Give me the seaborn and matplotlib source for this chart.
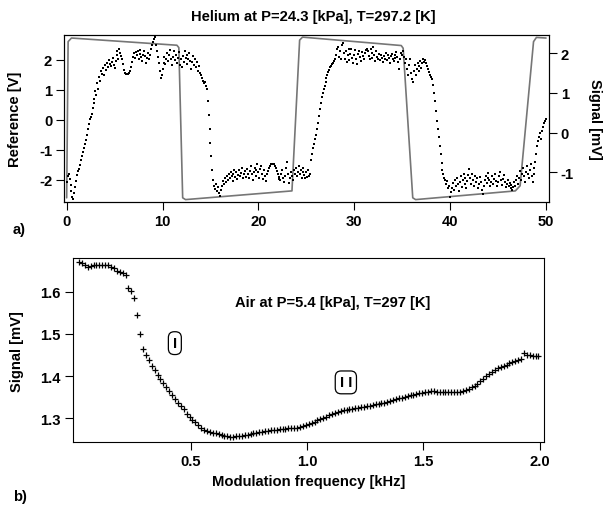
import numpy as np
import pandas as pd
import matplotlib
matplotlib.use("Agg")
import matplotlib.pyplot as plt
import seaborn as sns

# --- panel a: reference square wave (left axis, V) ---
ref_t = [0.0, 0.15, 0.5, 11.5, 11.7, 12.1, 12.4, 23.5, 24.3, 24.6, 34.9, 35.1,
         36.1, 36.4, 46.8, 47.3, 48.7, 49.0, 50.0]
ref_v = [-2.6, 2.6, 2.72, 2.48, 2.4, -2.6, -2.66, -2.37, 2.65, 2.75, 2.47, 2.38,
         -2.6, -2.66, -2.37, -2.2, 2.6, 2.74, 2.72]

# --- panel a: detector signal (right axis, mV), sampled every 0.1 ---
sig_mv = [
    -1.25, -1.10, -1.05, -1.18, -1.32, -1.48, -1.62, -1.68, -1.52, -1.38,
    -1.22, -1.08, -0.98, -0.92, -0.82, -0.70, -0.60, -0.50, -0.40, -0.30,
    -0.18, -0.05, 0.08, 0.22, 0.34, 0.40, 0.48, 0.62, 0.74, 0.85,
    1.05, 0.95, 1.25, 1.10, 1.40, 1.30, 1.55, 1.48, 1.62, 1.45,
    1.70, 1.58, 1.75, 1.65, 1.82, 1.72, 1.68, 1.78, 1.88, 1.70,
    1.62, 1.80, 1.95, 2.05, 1.85, 2.10, 2.00, 1.92, 1.85, 1.72,
    1.58, 1.50, 1.47, 1.47, 1.48, 1.50, 1.56, 1.65, 1.78, 1.90,
    2.00, 1.88, 2.02, 1.95, 2.05, 1.85, 1.98, 2.08, 1.90, 1.80,
    1.95, 2.05, 1.92, 1.75, 1.88, 2.00, 1.85, 1.95, 2.10, 2.22,
    2.28, 2.35, 2.40, 2.20, 2.05, 1.90, 1.75, 1.55, 1.38, 1.45,
    1.60, 1.75, 1.90, 1.72, 1.85, 2.00, 1.80, 1.95, 2.08, 1.85,
    1.70, 1.90, 2.05, 1.82, 1.95, 1.75, 1.88, 2.02, 1.70, 1.85,
    1.65, 1.92, 1.78, 2.05, 1.88, 1.72, 1.95, 1.85, 2.00, 1.80,
    1.60, 1.78, 1.92, 1.70, 1.85, 1.65, 1.78, 1.55, 1.68, 1.50,
    1.45, 1.38, 1.30, 1.25, 1.28, 1.18, 1.10, 0.80, 0.45, 0.10,
    -0.25, -0.60, -0.95, -1.20, -1.35, -1.42, -1.30, -1.48, -1.38, -1.52,
    -1.60, -1.45, -1.35, -1.22, -1.30, -1.15, -1.25, -1.10, -1.20, -1.05,
    -1.15, -1.00, -1.10, -1.22, -1.05, -0.95, -1.12, -1.00, -1.18, -1.08,
    -0.95, -1.10, -1.02, -0.90, -1.15, -1.05, -0.98, -1.12, -0.92, -1.05,
    -1.15, -0.98, -0.85, -1.05, -1.20, -1.00, -0.90, -1.10, -0.95, -0.80,
    -1.00, -1.15, -0.92, -0.85, -1.05, -1.18, -0.95, -1.10, -1.22, -1.05,
    -0.98, -0.90, -0.85, -0.80, -0.78, -0.78, -0.80, -0.84, -0.90, -0.98,
    -1.05, -1.12, -1.18, -1.20, -1.05, -0.95, -1.15, -1.25, -1.10, -0.90,
    -0.75, -1.05, -1.28, -1.15, -1.00, -1.10, -1.20, -0.95, -1.05, -0.90,
    -1.10, -1.00, -0.85, -1.05, -0.95, -1.15, -1.00, -0.90, -1.08, -1.15,
    -1.00, -1.12, -0.95, -1.10, -1.05, -0.70, -0.55, -0.40, -0.28, -0.15,
    -0.05, 0.10, 0.25, 0.42, 0.60, 0.75, 0.90, 1.00, 1.10, 1.18,
    1.28, 1.38, 1.45, 1.52, 1.58, 1.65, 1.68, 1.72, 1.75, 1.80,
    1.85, 1.95, 2.10, 2.15, 1.90, 2.05, 1.85, 2.20, 2.27, 2.00,
    1.85, 2.05, 1.78, 1.95, 2.10, 1.82, 1.98, 2.12, 1.88, 1.75,
    1.95, 2.08, 1.85, 1.72, 1.98, 2.05, 1.90, 1.80, 2.02, 1.92,
    1.85, 2.00, 2.08, 2.12, 2.05, 1.92, 1.85, 2.10, 1.88, 2.00,
    2.15, 1.95, 1.80, 2.05, 1.90, 1.85, 1.98, 1.82, 1.95, 1.88,
    1.78, 1.92, 1.85, 2.00, 1.82, 1.95, 1.88, 1.75, 1.92, 1.98,
    1.85, 1.80, 1.95, 1.88, 2.02, 1.90, 1.78, 1.60, 1.85, 2.00,
    1.95, 2.05, 1.90, 1.75, 1.85, 1.60, 1.45, 1.70, 1.85, 1.50,
    1.35, 1.28, 1.55, 1.70, 1.45, 1.60, 1.75, 1.55, 1.68, 1.80,
    1.62, 1.75, 1.85, 1.78, 1.82, 1.75, 1.68, 1.60, 1.52, 1.45,
    1.40, 1.35, 1.20, 1.00, 0.80, 0.55, 0.30, 0.08, -0.12, -0.34,
    -0.55, -0.76, -0.95, -1.05, -1.15, -1.20, -1.30, -1.22, -1.40, -1.35,
    -1.62, -1.50, -1.40, -1.28, -1.45, -1.20, -1.35, -1.15, -1.30, -1.48,
    -1.25, -1.10, -1.38, -1.20, -1.05, -1.30, -1.15, -1.40, -1.22, -1.08,
    -0.92, -1.15, -1.30, -1.05, -1.20, -1.35, -1.10, -1.25, -1.15, -1.40,
    -1.30, -1.12, -1.25, -1.45, -1.55, -1.35, -1.20, -1.10, -1.28, -1.15,
    -1.02, -1.20, -1.35, -1.25, -1.10, -1.30, -1.18, -1.05, -1.22, -1.35,
    -1.25, -1.10, -1.00, -1.20, -1.32, -1.18, -1.08, -1.25, -1.38, -1.30,
    -1.20, -1.35, -1.28, -1.40, -1.32, -1.45, -1.38, -1.25, -1.35, -1.20,
    -1.10, -1.30, -1.15, -0.98, -1.20, -1.05, -0.88, -1.10, -1.25, -1.00,
    -0.85, -1.05, -1.15, -0.95, -0.80, -1.10, -1.25, -1.05, -0.90, -0.75,
    -0.55, -0.35, -0.20, -0.10, 0.00, -0.15, 0.05, 0.15, 0.25, 0.30,
    0.35,
]
sig_t = np.round(np.arange(len(sig_mv)) * 0.1, 1)

# --- panel b: signal vs modulation frequency (sweep step 0.0125 kHz) ---
sweep_mv = [
    1.670, 1.667, 1.663, 1.659, 1.660, 1.662, 1.663, 1.664, 1.664, 1.664,
    1.663, 1.659, 1.655, 1.650, 1.647, 1.644, 1.639, 1.609, 1.601, 1.585,
    1.545, 1.500, 1.465, 1.450, 1.437, 1.424, 1.414, 1.403, 1.394, 1.383,
    1.373, 1.365, 1.356, 1.345, 1.336, 1.328, 1.321, 1.311, 1.304, 1.297,
    1.290, 1.284, 1.278, 1.273, 1.270, 1.268, 1.266, 1.264, 1.263, 1.261,
    1.259, 1.258, 1.256, 1.256, 1.257, 1.257, 1.259, 1.260, 1.261, 1.263,
    1.264, 1.266, 1.267, 1.268, 1.269, 1.270, 1.272, 1.273, 1.273, 1.274,
    1.275, 1.275, 1.276, 1.276, 1.277, 1.278, 1.280, 1.282, 1.285, 1.287,
    1.289, 1.292, 1.295, 1.298, 1.301, 1.304, 1.307, 1.310, 1.313, 1.315,
    1.317, 1.319, 1.320, 1.321, 1.323, 1.324, 1.325, 1.326, 1.327, 1.328,
    1.329, 1.331, 1.333, 1.334, 1.336, 1.337, 1.339, 1.341, 1.343, 1.345,
    1.347, 1.348, 1.350, 1.352, 1.354, 1.356, 1.357, 1.359, 1.360, 1.362,
    1.363, 1.364, 1.364, 1.363, 1.363, 1.362, 1.362, 1.362, 1.362, 1.362,
    1.362, 1.363, 1.365, 1.367, 1.370, 1.373, 1.377, 1.382, 1.388, 1.394,
    1.400, 1.405, 1.410, 1.414, 1.418, 1.421, 1.424, 1.427, 1.430, 1.433,
    1.435, 1.438, 1.441, 1.454, 1.451, 1.449, 1.448, 1.448, 1.448,
]
sweep_khz = np.round(0.02 + 0.0125 * np.arange(len(sweep_mv)), 4)

sns.set_theme(style="ticks")
plt.rcParams["font.family"] = ["Liberation Sans", "DejaVu Sans"]
plt.rcParams.update({
    "font.weight": "bold",
    "axes.labelweight": "bold",
    "axes.linewidth": 0.8,
    "axes.edgecolor": "black",
    "axes.labelcolor": "black",
    "text.color": "black",
    "xtick.color": "black",
    "ytick.color": "black",
    "axes.unicode_minus": False,
})

FS = 10.6
fig = plt.figure(figsize=(6.06, 5.06), dpi=100)


def style_axis(a):
    a.tick_params(labelsize=FS, length=5.5, width=0.8, direction="out", pad=3)
    for lab in a.get_xticklabels() + a.get_yticklabels():
        lab.set_fontweight("bold")
    for sp in a.spines.values():
        sp.set_visible(True)
        sp.set_color("black")


# ---------------- panel a ----------------
ax = fig.add_axes([0.1056, 0.5988, 0.8003, 0.330])
sns.lineplot(x=ref_t, y=ref_v, ax=ax, color="#767676", lw=1.2,
             sort=False, estimator=None)
ax.set_xlim(-0.28, 50.31)
ax.set_ylim(-2.74, 2.82)
ax.set_xticks([0, 10, 20, 30, 40, 50])
ax.set_yticks([-2, -1, 0, 1, 2])
ax.set_ylabel("Reference [V]", fontsize=FS)
ax.yaxis.set_label_coords(-0.086, 0.5)

ax2 = ax.twinx()
sns.scatterplot(x=sig_t, y=sig_mv, ax=ax2, marker="s", s=3.5, color="black",
                linewidth=0)
ax2.set_ylim(-1.75, 2.46)
ax2.set_yticks([-1, 0, 1, 2])
ax2.set_ylabel("Signal [mV]", fontsize=FS, rotation=270, va="center")
ax2.yaxis.set_label_coords(1.0955, 0.5)
style_axis(ax)
style_axis(ax2)

fig.text(313 / 606, 1 - 17.5 / 506, "Helium at P=24.3 [kPa], T=297.2 [K]",
         fontsize=FS, fontweight="bold", ha="center", va="center")

# ---------------- panel b ----------------
bx = fig.add_axes([0.12, 0.1239, 0.7782, 0.3636])
sns.scatterplot(x=sweep_khz, y=sweep_mv, ax=bx, marker="+", s=25,
                color="black", linewidth=0.9)
bx.set_xlim(-0.007, 2.02)
bx.set_ylim(1.243, 1.679)
bx.set_xticks([0.5, 1.0, 1.5, 2.0])
bx.set_yticks([1.3, 1.4, 1.5, 1.6])
bx.set_xlabel("Modulation frequency [kHz]", fontsize=FS)
bx.set_ylabel("Signal [mV]", fontsize=FS)
bx.xaxis.set_label_coords(0.5, -0.17)
bx.yaxis.set_label_coords(-0.104, 0.5)
style_axis(bx)

bx.text(1.111, 1.575, "Air at P=5.4 [kPa], T=297 [K]", fontsize=FS,
        fontweight="bold", ha="center", va="center")
box = dict(boxstyle="round,pad=0.3,rounding_size=0.4", fc="white",
           ec="black", lw=0.9)
bx.text(0.432, 1.478, "I", fontsize=FS, fontweight="bold", ha="center",
        va="center", bbox=box)
bx.text(1.167, 1.385, "I I", fontsize=FS, fontweight="bold", ha="center",
        va="center", bbox=box)

fig.text(13 / 606, 1 - 230 / 506, "a)", fontsize=FS, fontweight="bold",
         ha="left", va="center")
fig.text(13 / 606, 1 - 497 / 506, "b)", fontsize=FS, fontweight="bold",
         ha="left", va="center")

fig.savefig("out.png", dpi=100)
